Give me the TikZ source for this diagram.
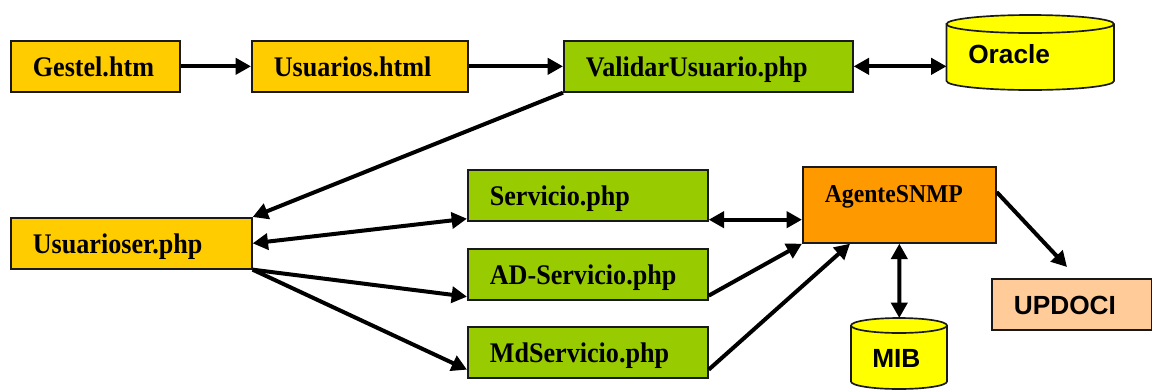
\documentclass[tikz,border=0pt]{standalone}
\usepackage{fontspec}
\setmainfont{Liberation Serif}
\newfontfamily\tnrfont[FakeStretch=0.92]{Liberation Serif}
\newfontfamily\arialfont{Liberation Sans}
\usetikzlibrary{arrows.meta,calc}
\definecolor{cgold}{HTML}{FFCC00}
\definecolor{cgreen}{HTML}{99CC00}
\definecolor{corange}{HTML}{FF9900}
\definecolor{cpeach}{HTML}{FFCC99}
\definecolor{cyell}{HTML}{FFFF00}
\begin{document}
\begin{tikzpicture}[x=0.75pt,y=-0.75pt,
  box/.style={draw=black!90, line width=1.25pt, anchor=north west, inner xsep=16.5pt, inner ysep=0pt,
    text height=27pt, text depth=11.25pt, align=left, font=\tnrfont\fontsize{21.3}{24}\selectfont\bfseries},
  arr/.style={line width=3pt, -{Triangle[length=11.5pt,width=12pt]}},
  darr/.style={line width=3pt, {Triangle[length=11.5pt,width=12pt]}-{Triangle[length=11.5pt,width=12pt]}},
  cyl/.style={draw=black!90, line width=1.25pt, fill=cyell},
  cyltext/.style={anchor=base west, inner sep=0pt, font=\arialfont\fontsize{19.7}{22}\selectfont\bfseries},
  ghost/.style={inner sep=0pt, anchor=north west}]
\useasboundingbox (0,0) rectangle (1152,390);

% boxes
\node[box, fill=cgold, text width=93.75pt] (gestel) at (10,40) {Gestel.htm};
\node[box, fill=cgold, text width=129pt] (usuarios) at (251,40) {Usuarios.html};
\node[box, fill=cgreen, text width=183.75pt] (validar) at (563,40) {ValidarUsuario.php};
\node[box, fill=cgold, text width=147.75pt] (usuarioser) at (10,217) {Usuarioser.php};
\node[box, fill=cgreen, text width=147pt] (servicio) at (467,169) {Servicio.php};
\node[box, fill=cgreen, text width=147pt] (ad) at (467,248) {AD-Servicio.php};
\node[box, fill=cgreen, text width=147pt] (md) at (467,326) {MdServicio.php};
\node[box, fill=corange, text width=111.75pt, text depth=30pt, font=\tnrfont\fontsize{19.3}{22}\selectfont\bfseries] (agente) at (802,166) {AgenteSNMP};
\node[box, fill=cpeach, text width=87pt, font=\arialfont\fontsize{19.7}{22}\selectfont\bfseries] (updoci) at (991,278) {UPDOCI};

% Oracle cylinder
\node[ghost, minimum width=125.6pt, minimum height=56.25pt] (oracle) at (946.5,15) {};
\filldraw[cyl] (946.5,24) -- (946.5,81) arc[start angle=180, end angle=360, x radius=62.81pt, y radius=6.75pt]
  -- (1114,24) arc[start angle=0, end angle=180, x radius=62.81pt, y radius=6.75pt] -- cycle;
\draw[cyl, fill=none] (946.5,24) arc[start angle=180, end angle=360, x radius=62.81pt, y radius=6.75pt];
\node[cyltext] (oracletext) at (968,63) {Oracle};

% MIB cylinder
\node[ghost, minimum width=72pt, minimum height=53.25pt] (mib) at (851,318) {};
\filldraw[cyl] (851,325.5) -- (851,381.5) arc[start angle=180, end angle=360, x radius=36pt, y radius=5.625pt]
  -- (947,325.5) arc[start angle=0, end angle=180, x radius=36pt, y radius=5.625pt] -- cycle;
\draw[cyl, fill=none] (851,325.5) arc[start angle=180, end angle=360, x radius=36pt, y radius=5.625pt];
\node[cyltext] (mibtext) at (872,367) {MIB};

% connectors
\draw[arr] (gestel.east) -- (usuarios.west);
\draw[arr] (usuarios.east) -- (validar.west);
\draw[darr] (validar.east) -- (validar.east -| oracle.west);
\draw[arr] (validar.south west) -- (usuarioser.north east);
\coordinate (sv) at ($(servicio.south west)+(0,-3)$);
\draw[darr] (usuarioser.east) -- (sv);
\coordinate (adw) at ($(ad.south west)+(0,-4)$);
\draw[arr] (usuarioser.south east) -- (adw);
\coordinate (mdw) at ($(md.south west)+(0,-9)$);
\draw[arr] (usuarioser.south east) -- (mdw);
\coordinate (se) at ($(servicio.south east)+(0,-2)$);
\draw[darr] (se) -- (se -| agente.west);
\coordinate (ade) at ($(ad.south east)+(0,-5)$);
\draw[arr] (ade) -- (agente.south west);
\coordinate (mde) at ($(md.south east)+(0,-9)$);
\coordinate (agb) at ($(agente.south west)+(48,0)$);
\draw[arr] (mde) -- (agb);
\coordinate (agr) at ($(agente.north east)+(0,26)$);
\coordinate (upt) at ($(updoci.north west)+(76,-11)$);
\draw[arr] (agr) -- (upt);
\draw[darr] (agente.south) -- (mib.north);
\end{tikzpicture}
\end{document}
